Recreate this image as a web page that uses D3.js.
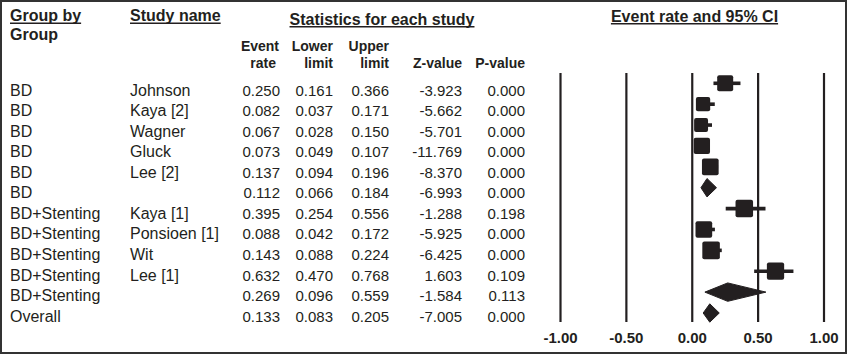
<!DOCTYPE html>
<html>
<head>
<meta charset="utf-8">
<script src="https://cdn.jsdelivr.net/npm/d3@7"></script>
<style>
  html, body { margin: 0; padding: 0; background: #fff; }
  svg { display: block; }
  text { font-family: "Liberation Sans", Arial, Helvetica, sans-serif; fill: #231f20; }
</style>
</head>
<body>
<svg id="chart" width="847" height="355"></svg>
<script>
// ---------- data ----------
const groups = ["BD","BD","BD","BD","BD","BD","BD+Stenting","BD+Stenting","BD+Stenting","BD+Stenting","BD+Stenting","Overall"];
const studies = ["Johnson","Kaya [2]","Wagner","Gluck","Lee [2]","","Kaya [1]","Ponsioen [1]","Wit","Lee [1]","",""];
const eventRate = [0.250,0.082,0.067,0.073,0.137,0.112,0.395,0.088,0.143,0.632,0.269,0.133];
const lowerLimit = [0.161,0.037,0.028,0.049,0.094,0.066,0.254,0.042,0.088,0.470,0.096,0.083];
const upperLimit = [0.366,0.171,0.150,0.107,0.196,0.184,0.556,0.172,0.224,0.768,0.559,0.205];
const zValue = [-3.923,-5.662,-5.701,-11.769,-8.370,-6.993,-1.288,-5.925,-6.425,1.603,-1.584,-7.005];
const pValue = [0.000,0.000,0.000,0.000,0.000,0.000,0.198,0.000,0.000,0.109,0.113,0.000];
const isSummary = [false,false,false,false,false,true,false,false,false,false,true,true];
const weights = [0.79,0.63,0.60,0.82,0.86,null,0.95,0.86,0.95,0.92,null,null];
const axisTicks = [-1.00,-0.50,0.00,0.50,1.00];

// ---------- layout ----------
const svg = d3.select("#chart");
const ink = "#231f20";
const n = groups.length;
const loc = d3.formatLocale({decimal:".", thousands:",", grouping:[3], currency:["",""], minus:"-"});

svg.append("rect").attr("x",1).attr("y",1).attr("width",845).attr("height",352)
  .attr("fill","none").attr("stroke","#333").attr("stroke-width",2);

const x = d3.scaleLinear().domain([-1,1]).range([560.5,824]);
const yText = d3.scaleLinear().domain([0,n-1]).range([95.5,321.7]);
const yMark = d3.scaleLinear().domain([0,n-1]).range([83.3,313]);
const size = d3.scaleSqrt().domain([0,1]).range([0,18]);
const fmt = loc.format(".3f");

// headers
function header(txt, xPos, yPos, anchor, underline, bold=true, fs=16){
  const t = svg.append("text").attr("x",xPos).attr("y",yPos)
    .attr("text-anchor",anchor).attr("font-size",fs).attr("font-weight",bold?"bold":"normal").text(txt);
  if (underline){
    const w = t.node().getComputedTextLength();
    const x0 = anchor==="middle" ? xPos - w/2 : (anchor==="end" ? xPos - w : xPos);
    svg.append("line").attr("x1",x0).attr("x2",x0+w).attr("y1",yPos+2.2).attr("y2",yPos+2.2)
      .attr("stroke",ink).attr("stroke-width",1.5);
  }
}
header("Group by",10,21,"start",true);
header("Group",10,39.5,"start",false);
header("Study name",130,21,"start",true);
header("Statistics for each study",382,24.5,"middle",true);
header("Event rate and 95% CI",694.5,21.5,"middle",true);

const colRight = [279,333,389,462,525];
const colHead = [["Event","rate"],["Lower","limit"],["Upper","limit"],["","Z-value"],["","P-value"]];
colHead.forEach((h,i)=>{
  if (h[0]) header(h[0], colRight[i], 51, "end", false, true, 14);
  header(h[1], colRight[i]-(i===0?3:0), 67.5, "end", false, true, 14);
});

// rows text
const rows = d3.range(n);
const g = svg.append("g");
g.selectAll("text.grp").data(rows).join("text").attr("class","grp")
  .attr("x",10).attr("y",i=>yText(i)).attr("font-size",16).text(i=>groups[i]);
g.selectAll("text.std").data(rows).join("text").attr("class","std")
  .attr("x",130).attr("y",i=>yText(i)).attr("font-size",16).text(i=>studies[i]);
const cols = [eventRate, lowerLimit, upperLimit, zValue, pValue];
cols.forEach((arr,c)=>{
  g.selectAll("text.c"+c).data(rows).join("text").attr("class","c"+c)
    .attr("x",colRight[c] + (c===0?1:0)).attr("y",i=>yText(i)).attr("text-anchor","end")
    .attr("font-size",15).text(i=>fmt(arr[i]));
});

// vertical grid lines
svg.selectAll("line.v").data(axisTicks).join("line").attr("class","v")
  .attr("x1",d=>x(d)).attr("x2",d=>x(d)).attr("y1",73).attr("y2",322)
  .attr("stroke",ink).attr("stroke-width",2.2);

// tick labels
svg.selectAll("text.tick").data(axisTicks).join("text").attr("class","tick")
  .attr("x",d=>x(d)).attr("y",343).attr("text-anchor","middle")
  .attr("font-size",15).attr("font-weight","bold").text(d=>loc.format(".2f")(d));

// CI lines and squares for studies
const studyRows = rows.filter(i=>!isSummary[i]);
svg.selectAll("line.ci").data(studyRows).join("line").attr("class","ci")
  .attr("x1",i=>x(lowerLimit[i])).attr("x2",i=>x(upperLimit[i]))
  .attr("y1",i=>yMark(i)).attr("y2",i=>yMark(i))
  .attr("stroke",ink).attr("stroke-width",3.6);
svg.selectAll("rect.pt").data(studyRows).join("rect").attr("class","pt")
  .attr("x",i=>x(eventRate[i])-size(weights[i])/2)
  .attr("y",i=>yMark(i)-size(weights[i])/2)
  .attr("width",i=>size(weights[i])).attr("height",i=>size(weights[i]))
  .attr("rx",2).attr("fill",ink);

// summary diamonds
const sumRows = rows.filter(i=>isSummary[i]);
svg.selectAll("path.dia").data(sumRows).join("path").attr("class","dia")
  .attr("d",i=>{
    const y0 = yMark(i), h = 9.2;
    return `M${x(lowerLimit[i])},${y0} L${x(eventRate[i])},${y0-h} L${x(upperLimit[i])},${y0} L${x(eventRate[i])},${y0+h} Z`;
  })
  .attr("fill",ink).attr("stroke",ink).attr("stroke-width",1).attr("stroke-linejoin","round");
</script>
</body>
</html>
